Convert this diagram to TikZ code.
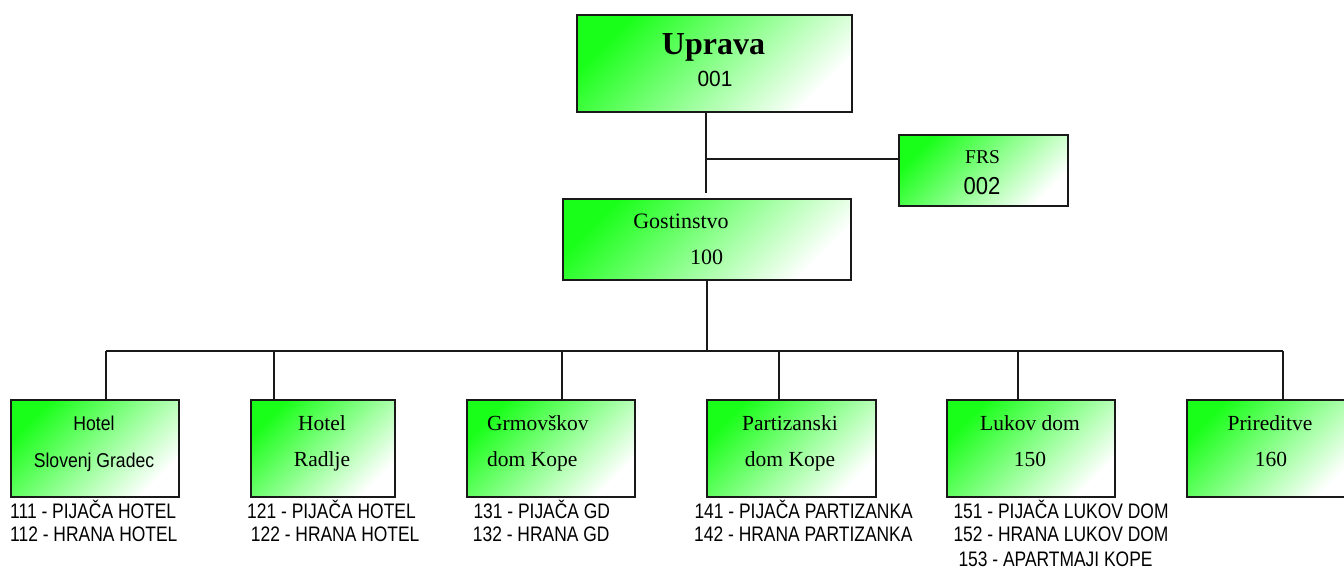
\documentclass[tikz,border=0pt]{standalone}
\usepackage{fontspec}
\setmainfont{Liberation Serif}
\setsansfont{Liberation Sans}
\newfontfamily\narrowsans[FakeStretch=0.83]{Liberation Sans}
\newfontfamily\boxsans[FakeStretch=0.88]{Liberation Sans}
\newfontfamily\codesans[FakeStretch=0.9]{Liberation Sans}
\newfontfamily\topsans[FakeStretch=0.95]{Liberation Sans}
\usetikzlibrary{calc}
\definecolor{gtop}{RGB}{25,255,25}
\definecolor{edge}{RGB}{25,25,25}
\tikzset{
  orgbox/.style={draw=edge, line width=2pt, shading=axis, top color=gtop,
    middle color=gtop!42!white, bottom color=white, shading angle=45,
    inner sep=0pt, anchor=north west},
  conn/.style={draw=edge, line width=1.6pt},
  lbl/.style={inner sep=0pt, anchor=base},
  serifl/.style={lbl, font=\fontsize{21.5}{21.5}\selectfont},
  sansl/.style={lbl, font=\boxsans\fontsize{20}{20}\selectfont},
  code/.style={inner sep=0pt, anchor=base west, font=\narrowsans\fontsize{21}{21}\selectfont},
}
\begin{document}
\begin{tikzpicture}[x=1pt, y=-1pt]
\useasboundingbox (0,0) rectangle (1344,569);

% top level
\node[orgbox, minimum width=275pt, minimum height=97pt] (upr) at (576,14) {};
\node[lbl, font=\bfseries\fontsize{32}{32}\selectfont] (uprA) at (713.5,55) {Uprava};
\node[lbl, font=\topsans\fontsize{22}{22}\selectfont] (uprB) at (715,87) {001};

\node[orgbox, minimum width=169pt, minimum height=71pt] (frs) at (898,134) {};
\node[lbl, font=\fontsize{19.5}{19.5}\selectfont] (frsA) at (982.5,164) {FRS};
\node[lbl, font=\codesans\fontsize{24.5}{24.5}\selectfont] (frsB) at (982,194.5) {002};

\node[orgbox, minimum width=288pt, minimum height=81pt] (gost) at (562,198) {};
\node[lbl, font=\fontsize{22}{22}\selectfont] (gostA) at (681,229) {Gostinstvo};
\node[lbl, font=\fontsize{22}{22}\selectfont] (gostB) at (706.7,265) {100};

% units
\node[orgbox, minimum width=168pt, minimum height=97pt] (b1) at (10,399) {};
\node[sansl] (b1a) at (94,430) {Hotel};
\node[sansl] (b1b) at (94,467) {Slovenj Gradec};

\node[orgbox, minimum width=144pt, minimum height=97pt] (b2) at (250,399) {};
\node[serifl] (b2a) at (322,430) {Hotel};
\node[serifl] (b2b) at (322,466) {Radlje};

\node[orgbox, minimum width=168pt, minimum height=97pt] (b3) at (466,399) {};
\node[serifl, anchor=base west] (b3a) at (487,430) {Grmovškov};
\node[serifl, anchor=base west] (b3b) at (487,466) {dom Kope};

\node[orgbox, minimum width=169pt, minimum height=97pt] (b4) at (706,399) {};
\node[serifl] (b4a) at (790,430) {Partizanski};
\node[serifl] (b4b) at (790,466) {dom Kope};

\node[orgbox, minimum width=168pt, minimum height=97pt] (b5) at (946,399) {};
\node[serifl] (b5a) at (1030,430) {Lukov dom};
\node[serifl] (b5b) at (1030,466) {150};

\node[orgbox, minimum width=169pt, minimum height=97pt] (b6) at (1186,399) {};
\node[serifl] (b6a) at (1270,430) {Prireditve};
\node[serifl] (b6b) at (1271,466) {160};

% account codes
\node[code] (c11) at (10,518) {111 - PIJAČA HOTEL};
\node[code] (c12) at (10,541.7) {112 - HRANA HOTEL};
\node[code] (c21) at (247,518) {121 - PIJAČA HOTEL};
\node[code] (c22) at (250.7,541.7) {122 - HRANA HOTEL};
\node[code] (c31) at (473.3,518) {131 - PIJAČA GD};
\node[code] (c32) at (472.7,541.7) {132 - HRANA GD};
\node[code] (c41) at (694.3,518) {141 - PIJAČA PARTIZANKA};
\node[code] (c42) at (694,541.7) {142 - HRANA PARTIZANKA};
\node[code] (c51) at (953.3,518) {151 - PIJAČA LUKOV DOM};
\node[code] (c52) at (953.3,541.7) {152 - HRANA LUKOV DOM};
\node[code] (c53) at (958.3,566) {153 - APARTMAJI KOPE};

% connectors
\coordinate (j0) at (706,159);
\coordinate (g0) at (706,193);
\draw[conn] (upr.south -| j0) -- (g0);
\draw[conn] (j0) -- (frs.west |- j0);

\coordinate (bus) at (707,351);
\draw[conn] (gost.south -| bus) -- (bus);
\coordinate (d1) at (106,351);
\coordinate (d2) at (274,351);
\coordinate (d3) at (562,351);
\coordinate (d4) at (779,351);
\coordinate (d5) at (1018,351);
\coordinate (d6) at (1283,351);
\draw[conn] (d1) -- (d6);
\draw[conn] (d1) -- (d1 |- b1.north);
\draw[conn] (d2) -- (d2 |- b2.north);
\draw[conn] (d3) -- (d3 |- b3.north);
\draw[conn] (d4) -- (d4 |- b4.north);
\draw[conn] (d5) -- (d5 |- b5.north);
\draw[conn] (d6) -- (d6 |- b6.north);
\end{tikzpicture}
\end{document}
